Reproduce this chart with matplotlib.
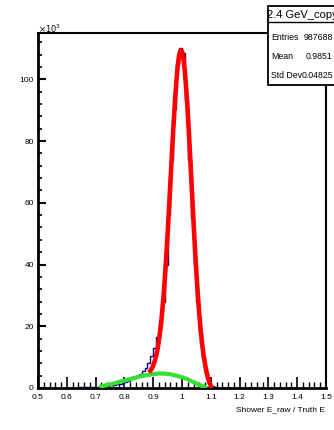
import numpy as np
import matplotlib
matplotlib.use("Agg")
import matplotlib.pyplot as plt
from matplotlib.patches import Rectangle
from matplotlib.lines import Line2D
from matplotlib.ticker import MultipleLocator

plt.rcParams['font.family'] = ['Liberation Sans', 'DejaVu Sans']

# histogram: 100 bins between 0.5 and 1.5, counts in units of 10^3
bin_edges = np.linspace(0.5, 1.5, 101)
counts = [
    0.05, 0.05, 0.06, 0.06, 0.07, 0.07, 0.08, 0.08, 0.09, 0.10,
    0.11, 0.12, 0.13, 0.15, 0.17, 0.19, 0.21, 0.24, 0.27, 0.31,
    0.35, 0.42, 0.50, 0.60, 0.70, 0.85, 1.00, 1.20, 1.45, 1.70,
    2.0, 2.4, 2.8, 3.3, 3.9, 4.6, 5.5, 6.6, 8.2, 10.3,
    13.0, 16.5, 21.0, 28.0, 40.0, 56.0, 74.0, 90.5, 104.5, 110.0,
    108.5, 93.0, 74.0, 55.0, 40.0, 28.0, 18.0, 10.0, 5.0, 2.0,
    0.8, 0.35, 0.15, 0.08, 0.05, 0.03, 0.02, 0.01, 0.01, 0.01,
    0.01, 0.0, 0.0, 0.0, 0.0, 0.0, 0.0, 0.0, 0.0, 0.0,
    0.0, 0.0, 0.0, 0.0, 0.0, 0.0, 0.0, 0.0, 0.0, 0.0,
    0.0, 0.0, 0.0, 0.0, 0.0, 0.0, 0.0, 0.0, 0.0, 0.0,
]

# total fit (red)
fit_x = [0.890, 0.895, 0.900, 0.905, 0.910, 0.915, 0.920, 0.925, 0.930, 0.935,
         0.940, 0.945, 0.950, 0.955, 0.960, 0.965, 0.970, 0.975, 0.980, 0.985,
         0.990, 0.995, 1.000, 1.005, 1.010, 1.015, 1.020, 1.025, 1.030, 1.035,
         1.040, 1.045, 1.050, 1.055, 1.060, 1.065, 1.070, 1.075, 1.080, 1.085,
         1.090, 1.095, 1.100]
fit_y = [5.6, 6.3, 7.3, 8.6, 10.3, 12.5, 15.5, 19.0, 23.4, 28.7,
         34.9, 42.0, 49.8, 58.3, 67.0, 75.8, 84.3, 92.0, 98.8, 104.2,
         107.8, 109.4, 109.1, 106.7, 102.5, 96.5, 89.2, 80.9, 72.0, 62.9,
         53.8, 45.3, 37.4, 30.1, 23.9, 18.6, 14.2, 10.6, 7.7, 5.3,
         3.3, 1.8, 0.6]

# background component (green)
bkg_x = [0.72, 0.74, 0.76, 0.78, 0.80, 0.82, 0.84, 0.86, 0.88, 0.90,
         0.92, 0.94, 0.96, 0.98, 1.00, 1.02, 1.04, 1.06, 1.08]
bkg_y = [0.5, 0.95, 1.4, 1.9, 2.4, 2.9, 3.4, 3.85, 4.2, 4.5,
         4.7, 4.65, 4.45, 4.0, 3.5, 2.8, 1.9, 1.0, 0.3]

fig = plt.figure(figsize=(3.34, 4.30), dpi=100)
ax = fig.add_axes([38/334, 1 - 388/430, 288/334, 355/430])

ax.stairs(counts, bin_edges, color='#000099', linewidth=1.0, zorder=2)
ax.plot(bkg_x, bkg_y, color='#33e033', linewidth=3.0, zorder=3)
ax.plot(fit_x, fit_y, color='#ff0000', linewidth=3.3, zorder=4)

ax.set_xlim(0.5, 1.5)
ax.set_ylim(0, 115)
ax.xaxis.set_minor_locator(MultipleLocator(0.02))
ax.yaxis.set_major_locator(MultipleLocator(20))
ax.yaxis.set_minor_locator(MultipleLocator(4))
ax.set_xticks(np.arange(0.5, 1.51, 0.1))
ax.set_xticklabels(['0.5', '0.6', '0.7', '0.8', '0.9', '1', '1.1', '1.2', '1.3', '1.4', '1.5'])
ax.tick_params(axis='x', which='major', direction='in', length=8, width=1.2,
               labelsize=6, pad=4, top=False)
ax.tick_params(axis='x', which='minor', direction='in', length=4, width=1.0, top=False)
ax.tick_params(axis='y', which='major', direction='in', length=6, width=1.5,
               labelsize=6, pad=3, right=False)
ax.tick_params(axis='y', which='minor', direction='in', length=3, width=1.2, right=False)
for side in ['left', 'bottom']:
    ax.spines[side].set_linewidth(2.0)
for side in ['top', 'right']:
    ax.spines[side].set_linewidth(1.5)

fig.text(38/334, 1 - 29/430, r'$\times10^{3}$', fontsize=6, ha='left', va='center')
fig.text(325/334, 1 - 410/430, 'Shower E_raw / Truth E', fontsize=6,
         ha='right', va='center')

# stats box
bx0, by0 = 268/334, 1 - 85/430
fig.patches.append(Rectangle((bx0, by0), 0.3, 79/430, transform=fig.transFigure,
                             facecolor='white', edgecolor='black', linewidth=1.3,
                             zorder=10))
fig.lines.append(Line2D([bx0, 1.0], [1 - 22/430, 1 - 22/430], transform=fig.transFigure,
                        color='black', linewidth=1.0, zorder=11))
fig.text(267/334, 1 - 14.5/430, '2.4 GeV_copy', fontsize=8, ha='left', va='center', zorder=12)
stat_names = ['Entries', 'Mean', 'Std Dev']
stat_values = ['987688', '0.9851', '0.04825']
for i, (n, v) in enumerate(zip(stat_names, stat_values)):
    yy = 1 - (37 + 19.5*i)/430
    fig.text(271/334, yy, n, fontsize=6.3, ha='left', va='center', zorder=12)
    fig.text(333/334, yy, v, fontsize=6.3, ha='right', va='center', zorder=12)

fig.savefig('out.png', dpi=100)
